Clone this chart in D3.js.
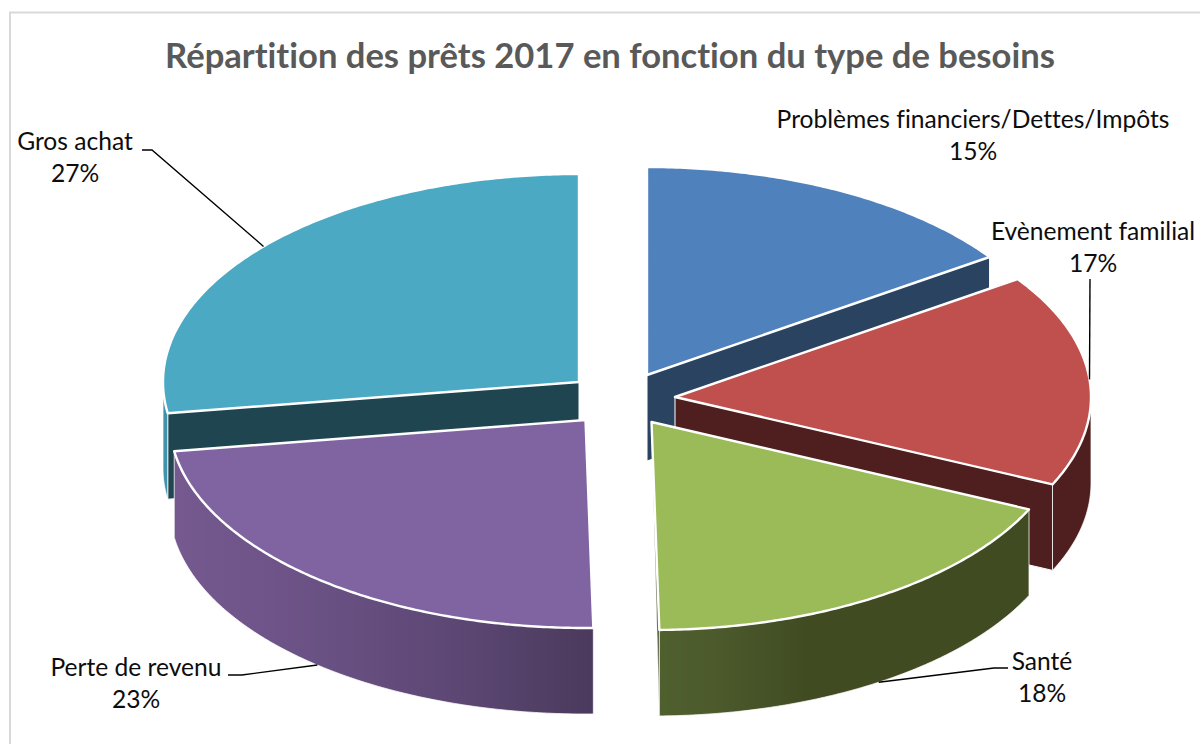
<!DOCTYPE html>
<html lang="fr">
<head>
<meta charset="utf-8">
<script src="https://cdn.jsdelivr.net/npm/d3@7/dist/d3.min.js"></script>
<style>
html,body{margin:0;padding:0;background:#fff;overflow:hidden}
svg{display:block}
text{font-family:Lato,"Open Sans",sans-serif;font-variant-ligatures:none}
</style>
</head>
<body>
<svg id="chart" width="1200" height="744"></svg>
<script>
const chartTitle = "Répartition des prêts 2017 en fonction du type de besoins";
const categories = ["Problèmes financiers/Dettes/Impôts","Evènement familial","Santé","Perte de revenu","Gros achat"];
const values = [15.4,16.5,17.8,22.9,27.4];
const topColors = ["#4f81bd","#c0504d","#9bbb59","#8064a2","#4ba9c4"];
const wallColors = ["#2a4361","#4f1f1f","#404b22","#4a3a5c","#1f4650"];

const W = 1200, H = 744;
const rx = 416, ry = 208, depth = 86;
// exploded centre of each slice
const centres = [[647,375],[675,397],[651.5,422],[585.5,420],[579,382]];
// label anchor: centre x, first baseline
const labelPos = [[973,128],[1093,240],[1042,670],[136,676],[75,150]];
// leader polylines: from the label side to the computed rim anchor
const leaderStart = [null,[1090,279],[1008,668],[228,675],[142,150]];
const leaderElbow = [null,null,[994,668],[242,675],[152,150]];
const drawOrder = [4,0,1,3,2];

const svg = d3.select("#chart");
const defs = svg.append("defs");
function gradient(id, stops){
  const g = defs.append("linearGradient").attr("id",id).attr("x1",0).attr("x2",1).attr("y1",0).attr("y2",0);
  stops.forEach(s=>g.append("stop").attr("offset",s[0]).attr("stop-color",s[1]));
  return `url(#${id})`;
}
const outerFill = [
  wallColors[0],
  wallColors[1],
  gradient("gGreen",[[0,"#505f2e"],[0.15,"#4c5a2c"],[0.4,"#404b22"],[1,"#404b22"]]),
  gradient("gPurple",[[0,"#75598f"],[0.35,"#6a5184"],[0.7,"#5b4672"],[1,"#4a3a5c"]]),
  "#3f93aa"
];

svg.append("rect").attr("x",10).attr("y",12.5).attr("width",1300).attr("height",900)
  .attr("fill","#fff").attr("stroke","#d9d9d9").attr("stroke-width",2);

const pie = d3.pie().sort(null).value(d=>d);
const arcs = pie(values);
const line = d3.line();
const point = (i,a,down=0)=>[centres[i][0]+rx*Math.sin(a), centres[i][1]-ry*Math.cos(a)+down];
const arcPts = (i,a0,a1,down=0)=>{
  const n = Math.max(2,Math.ceil((a1-a0)/0.01));
  return d3.range(n+1).map(k=>point(i,a0+(a1-a0)*k/n,down));
};
const g = svg.append("g");

drawOrder.forEach(i=>{
  const a = arcs[i], c = centres[i];
  // radial wall on the end side of the slice
  const e = a.endAngle;
  if (Math.sin(e) > -0.5 && Math.sin(e) < 0.95 && e < Math.PI) {
    const outer = point(i,e), outerB = point(i,e,depth);
    const nearVertical = Math.abs(Math.sin(e)) < 0.1;
    const pts = nearVertical ? [c,outer,outerB] : [c,outer,outerB,[c[0],c[1]+depth]];
    g.append("path").attr("d",line(pts)+"Z").attr("fill",wallColors[i])
      .attr("stroke","#fff").attr("stroke-width",nearVertical?0.5:1);
  }
  // radial wall on the start side, when it faces the viewer
  if (a.startAngle > Math.PI && a.startAngle < 1.5*Math.PI && i === 4) {
    const pts = [c,point(i,a.startAngle),point(i,a.startAngle,depth),[c[0],c[1]+depth]];
    g.append("path").attr("d",line(pts)+"Z").attr("fill",wallColors[i])
      .attr("stroke","#fff").attr("stroke-width",1);
  }
  // outer curved wall, the part of the rim at the front
  const w0 = Math.max(a.startAngle,Math.PI/2), w1 = Math.min(a.endAngle,1.5*Math.PI);
  if (w1 > w0) {
    const pts = arcPts(i,w0,w1).concat(arcPts(i,w0,w1,depth).reverse());
    g.append("path").attr("d",line(pts)+"Z").attr("fill",outerFill[i])
      .attr("stroke","#fff").attr("stroke-width",0.75);
  }
  // top face
  const pts = [c].concat(arcPts(i,a.startAngle,a.endAngle));
  g.append("path").attr("d",line(pts)+"Z").attr("fill",topColors[i])
    .attr("stroke","#fff").attr("stroke-width",2.4).attr("stroke-linejoin","round");
});

// leaders
arcs.forEach((a,i)=>{
  if(!leaderStart[i]) return;
  const mid = (a.startAngle+a.endAngle)/2;
  const end = point(i,mid,Math.cos(mid)<-0.3?depth:0);
  const pts = [leaderStart[i]];
  if(leaderElbow[i]) pts.push(leaderElbow[i]);
  pts.push(end);
  svg.append("path").attr("d",line(pts)).attr("fill","none").attr("stroke","#000").attr("stroke-width",1.4);
});

// labels
categories.forEach((name,i)=>{
  const [x,y] = labelPos[i];
  const t = svg.append("text").attr("text-anchor","middle").attr("fill","#0d0d0d").attr("font-size",24.6);
  t.append("tspan").attr("x",x).attr("y",y).text(name);
  t.append("tspan").attr("x",x).attr("y",y+32).text(Math.round(values[i])+"%");
});

svg.append("text").attr("x",610).attr("y",68).attr("text-anchor","middle")
  .attr("font-size",34.6).attr("font-weight",700).attr("fill","#595959").text(chartTitle);
</script>
</body>
</html>
